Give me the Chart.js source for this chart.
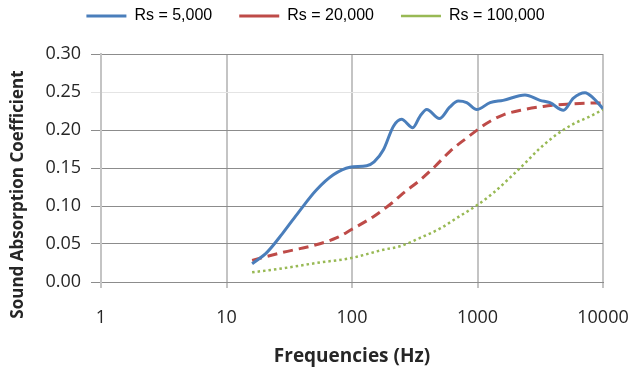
<!DOCTYPE html>
<html>
<head>
<meta charset="utf-8">
<title>Sound Absorption Coefficient</title>
<script src="https://cdn.jsdelivr.net/npm/chart.js@4/dist/chart.umd.min.js"></script>
<style>
    html, body { margin: 0; padding: 0; background: #ffffff; }
    #wrap { width: 631px; height: 370px; }
</style>
</head>
<body>
<div id="wrap"><canvas id="absorptionChart" width="631" height="370"></canvas></div>
<script>
// Series labels
const seriesNames = ['Rs = 5,000', 'Rs = 20,000', 'Rs = 100,000'];

// Rs = 5,000 (solid blue)
const freq5k = [16, 21, 28, 38, 52, 71, 96, 131, 150, 178, 214, 248, 305, 348, 394, 497, 600, 703, 820, 986, 1260, 1600, 2390, 3150, 3780, 4840, 5810, 7190, 8370, 10000];
const abs5k = [0.024, 0.039, 0.064, 0.093, 0.121, 0.141, 0.151, 0.153, 0.158, 0.174, 0.205, 0.214, 0.203, 0.218, 0.227, 0.215, 0.230, 0.238, 0.236, 0.227, 0.236, 0.239, 0.246, 0.239, 0.236, 0.226, 0.242, 0.249, 0.242, 0.228];

// Rs = 20,000 (dashed red)
const freq20k = [16, 28, 49, 75, 99, 148, 208, 256, 348, 458, 604, 820, 986, 1186, 1607, 2317, 3350, 5140, 8370, 10000];
const abs20k = [0.0285, 0.039, 0.048, 0.058, 0.069, 0.086, 0.104, 0.117, 0.134, 0.152, 0.172, 0.1895, 0.1995, 0.209, 0.220, 0.2267, 0.231, 0.234, 0.2355, 0.2355];

// Rs = 100,000 (dotted green)
const freq100k = [16, 28, 52, 99, 178, 241, 348, 512, 680, 986, 1332, 1807, 2317, 3148, 4270, 5810, 7900, 10000];
const abs100k = [0.0127, 0.018, 0.025, 0.0316, 0.0425, 0.047, 0.058, 0.071, 0.084, 0.1008, 0.117, 0.137, 0.154, 0.176, 0.194, 0.208, 0.218, 0.227];

// Axis ticks
const xTicks = [1, 10, 100, 1000, 10000];
const yTicks = [0, 0.05, 0.10, 0.15, 0.20, 0.25, 0.30];

function toPoints(xs, ys) {
    return xs.map((x, i) => ({ x: x, y: ys[i] }));
}

function initAbsorptionChart() {
    const ctx = document.getElementById('absorptionChart').getContext('2d');
    return new Chart(ctx, {
        type: 'line',
        data: {
            datasets: [
                {
                    label: seriesNames[0],
                    data: toPoints(freq5k, abs5k),
                    borderColor: '#4a7ebb',
                    borderWidth: 3
                },
                {
                    label: seriesNames[1],
                    data: toPoints(freq20k, abs20k),
                    borderColor: '#be4b48',
                    borderWidth: 3,
                    borderDash: [10, 6]
                },
                {
                    label: seriesNames[2],
                    data: toPoints(freq100k, abs100k),
                    borderColor: '#98b954',
                    borderWidth: 2.5,
                    borderDash: [2.5, 3]
                }
            ]
        },
        options: {
            responsive: false,
            animation: false,
            devicePixelRatio: 1,
            layout: { padding: { top: -19, right: 0, bottom: 0, left: 0 } },
            elements: {
                point: { radius: 0 },
                line: { cubicInterpolationMode: 'monotone', fill: false }
            },
            scales: {
                x: {
                    type: 'logarithmic',
                    min: 1,
                    max: 10000,
                    afterBuildTicks: (scale) => {
                        scale.ticks = xTicks.map(v => ({ value: v }));
                    },
                    afterFit: (scale) => {
                        scale.height = 88;
                        // keep the plot right edge where the original has it
                        scale.paddingLeft = 0;
                        scale.paddingRight = 28;
                    },
                    ticks: {
                        callback: (v) => String(v),
                        font: { family: 'Open Sans', size: 18 },
                        color: '#262626',
                        padding: 19,
                        maxRotation: 0
                    },
                    grid: { color: '#c4c4c4', lineWidth: 2, tickLength: 6 },
                    border: { color: '#8c8c8c', width: 1 },
                    title: {
                        display: true,
                        text: 'Frequencies (Hz)',
                        font: { family: 'Open Sans', size: 19, weight: 'bold' },
                        color: '#262626',
                        padding: { top: 0, bottom: 2 }
                    }
                },
                y: {
                    min: 0,
                    max: 0.3,
                    afterBuildTicks: (scale) => {
                        scale.ticks = yTicks.map(v => ({ value: v }));
                    },
                    afterFit: (scale) => { scale.width = 101; },
                    ticks: {
                        callback: (v) => Number(v).toFixed(2),
                        font: { family: 'Open Sans', size: 18 },
                        color: '#262626',
                        padding: 10
                    },
                    grid: {
                        // the 0.25 line is drawn much lighter in the original
                        color: (c) => (c.tick && Math.abs(c.tick.value - 0.25) < 1e-6) ? '#e4e4e4' : '#8c8c8c',
                        lineWidth: 1,
                        tickLength: 10
                    },
                    border: { color: '#c4c4c4', width: 2 },
                    title: {
                        display: true,
                        text: 'Sound Absorption Coefficient            ',
                        font: { family: 'Open Sans', size: 17, weight: 'bold' },
                        color: '#262626',
                        padding: { top: 8, bottom: 0 }
                    }
                }
            },
            plugins: {
                legend: {
                    position: 'top',
                    labels: {
                        usePointStyle: true,
                        pointStyle: 'line',
                        pointStyleWidth: 40,
                        padding: 27,
                        color: '#000000',
                        font: { family: 'Liberation Sans', size: 16 }
                    }
                },
                // empty title used only as a spacer between legend and plot
                title: {
                    display: true,
                    text: ' ',
                    weight: 500,
                    font: { size: 10, lineHeight: 1 },
                    padding: { top: 0, bottom: 10 }
                },
                tooltip: { enabled: false }
            }
        }
    });
}

window.absorptionChart = initAbsorptionChart();
</script>
</body>
</html>
